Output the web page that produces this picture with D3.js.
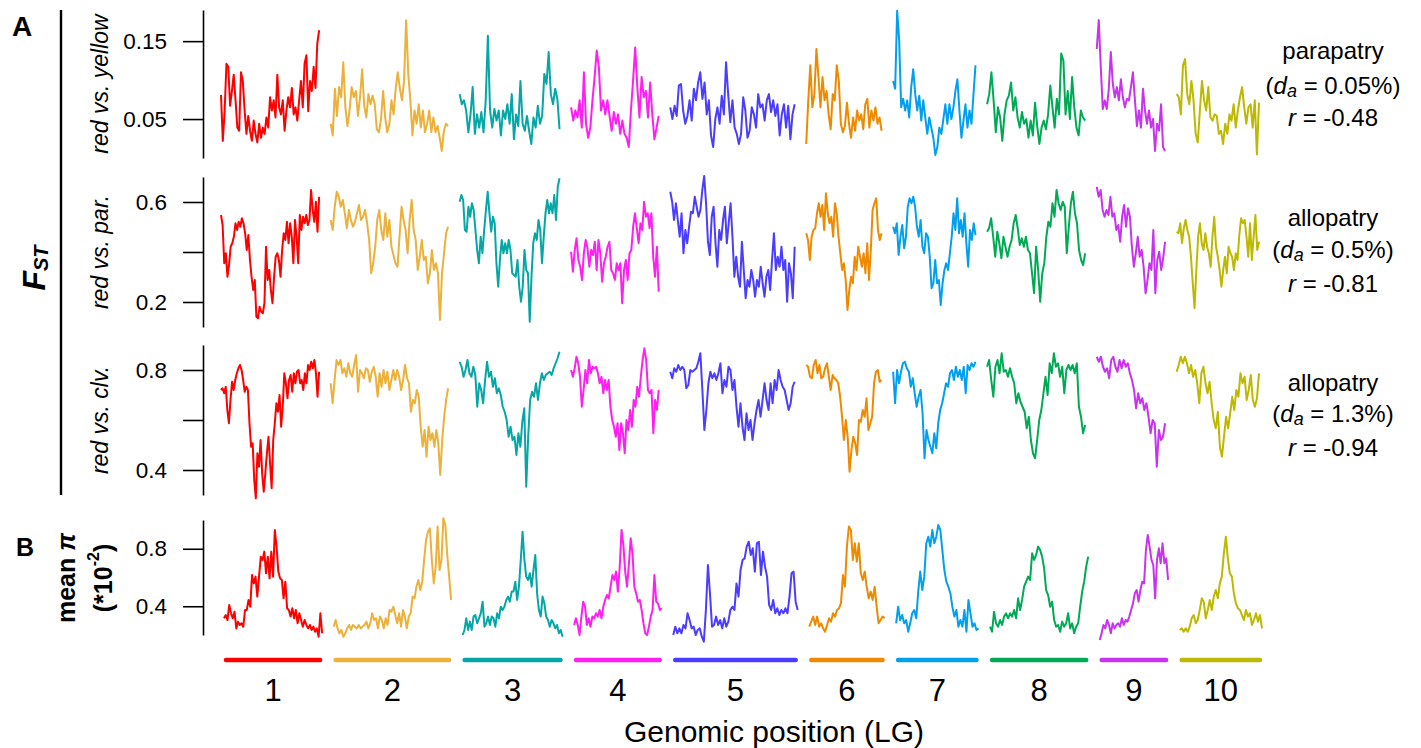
<!DOCTYPE html>
<html><head><meta charset="utf-8">
<script src="https://cdn.jsdelivr.net/npm/d3@7"></script>
<style>
html,body{margin:0;padding:0;background:#fff;}
svg{display:block;font-family:"Liberation Sans",Arial,sans-serif;}
</style></head><body>
<svg id="chart" width="1421" height="748"></svg>
<script>
// ---------------- DATA ----------------
const lgNames = ["1","2","3","4","5","6","7","8","9","10"];
const lgLengths = [28, 33.5, 28.5, 25, 35.5, 21.5, 23.5, 28, 19.5, 23.5];
const lgColors = ["#FF0000","#EBB13B","#05A6A6","#FF1FF0","#4B3DFF","#EE8A00","#00A0EF","#00AA55","#C733EE","#BDB800"];

const panelLabels = ["red vs. yellow","red vs. par.","red vs. clv."];
const contextNames = ["parapatry","allopatry","allopatry"];
const daValues = ["0.05%","0.5%","1.3%"];
const rValues = ["-0.48","-0.81","-0.94"];

const ticksRY = [0.05, 0.15];
const ticksRP = [0.2, 0.4, 0.6];
const ticksRC = [0.4, 0.6, 0.8];
const ticksPi = [0.4, 0.8];
const labeledRP = [0.2, 0.6];
const labeledRC = [0.4, 0.8];

// FST red vs. yellow
const fstRedYellow = [
 [0.081,0.022,0.06,0.121,0.117,0.067,0.086,0.107,0.074,0.039,0.035,0.110,0.099,0.061,0.031,0.054,0.035,0.022,0.048,0.031,0.020,0.044,0.026,0.039,0.031,0.052,0.039,0.078,0.061,0.074,0.052,0.107,0.065,0.056,0.074,0.035,0.061,0.078,0.065,0.090,0.056,0.065,0.048,0.074,0.099,0.065,0.121,0.132,0.060,0.099,0.086,0.117,0.090,0.147,0.164],
 [0.044,0.029,0.089,0.054,0.091,0.078,0.123,0.065,0.041,0.061,0.091,0.078,0.086,0.054,0.078,0.114,0.067,0.052,0.082,0.069,0.080,0.069,0.037,0.033,0.050,0.086,0.052,0.033,0.044,0.074,0.056,0.089,0.110,0.089,0.074,0.099,0.177,0.108,0.074,0.029,0.061,0.044,0.069,0.039,0.061,0.033,0.044,0.061,0.033,0.052,0.033,0.041,0.026,0.009,0.035,0.044,0.041],
 [0.082,0.069,0.074,0.061,0.033,0.056,0.091,0.031,0.056,0.039,0.059,0.033,0.074,0.157,0.061,0.039,0.063,0.048,0.061,0.029,0.061,0.050,0.069,0.044,0.082,0.024,0.056,0.041,0.099,0.044,0.035,0.054,0.035,0.018,0.052,0.039,0.067,0.044,0.054,0.108,0.095,0.136,0.082,0.069,0.089,0.076,0.037],
 [0.065,0.048,0.061,0.052,0.074,0.039,0.110,0.044,0.026,0.039,0.074,0.104,0.138,0.117,0.061,0.074,0.056,0.074,0.054,0.035,0.059,0.044,0.056,0.031,0.048,0.031,0.026,0.014,0.061,0.099,0.142,0.091,0.052,0.104,0.078,0.086,0.052,0.097,0.056,0.024,0.039,0.054],
 [0.065,0.050,0.067,0.054,0.093,0.095,0.061,0.044,0.054,0.074,0.048,0.089,0.074,0.097,0.110,0.076,0.097,0.056,0.074,0.029,0.014,0.050,0.065,0.044,0.080,0.056,0.123,0.082,0.046,0.074,0.039,0.031,0.018,0.031,0.078,0.061,0.026,0.035,0.065,0.056,0.039,0.082,0.065,0.069,0.048,0.074,0.082,0.059,0.074,0.054,0.069,0.029,0.056,0.069,0.039,0.067,0.024,0.056,0.069],
 [0.018,0.074,0.119,0.065,0.082,0.140,0.104,0.065,0.104,0.074,0.086,0.056,0.037,0.082,0.074,0.119,0.099,0.044,0.033,0.041,0.071,0.044,0.026,0.052,0.035,0.061,0.048,0.056,0.037,0.069,0.076,0.039,0.061,0.048,0.065,0.044,0.052,0.035],
 [0.099,0.089,0.189,0.151,0.065,0.076,0.061,0.074,0.052,0.091,0.114,0.082,0.061,0.080,0.048,0.074,0.052,0.031,0.052,0.039,0.026,0.004,0.014,0.039,0.031,0.050,0.069,0.044,0.069,0.050,0.065,0.086,0.101,0.061,0.026,0.048,0.069,0.039,0.061,0.044,0.082,0.119],
 [0.069,0.082,0.110,0.074,0.033,0.065,0.052,0.022,0.056,0.074,0.080,0.097,0.061,0.078,0.052,0.039,0.059,0.044,0.050,0.026,0.048,0.029,0.071,0.041,0.018,0.039,0.048,0.037,0.056,0.093,0.065,0.039,0.076,0.056,0.134,0.125,0.056,0.086,0.050,0.104,0.065,0.039,0.029,0.061,0.052,0.048],
 [0.140,0.177,0.117,0.063,0.074,0.063,0.089,0.136,0.095,0.078,0.091,0.074,0.101,0.078,0.065,0.076,0.074,0.091,0.110,0.074,0.041,0.061,0.039,0.089,0.061,0.044,0.061,0.039,0.050,0.009,0.044,0.035,0.069,0.014,0.009],
 [0.082,0.078,0.056,0.119,0.127,0.082,0.069,0.099,0.074,0.031,0.020,0.061,0.099,0.074,0.061,0.091,0.052,0.048,0.056,0.054,0.031,0.035,0.018,0.044,0.031,0.056,0.048,0.069,0.039,0.061,0.078,0.091,0.065,0.044,0.065,0.069,0.039,0.074,0.005,0.071]
];

// FST red vs. parapatric
const fstRedPar = [
 [0.548,0.508,0.355,0.395,0.301,0.348,0.421,0.435,0.461,0.515,0.488,0.521,0.501,0.535,0.515,0.475,0.408,0.468,0.368,0.301,0.248,0.288,0.141,0.135,0.181,0.161,0.155,0.195,0.421,0.288,0.328,0.248,0.195,0.301,0.381,0.395,0.368,0.301,0.408,0.475,0.448,0.521,0.435,0.515,0.461,0.355,0.528,0.461,0.355,0.548,0.488,0.541,0.515,0.548,0.508,0.528,0.648,0.568,0.521,0.601,0.481,0.621],
 [0.528,0.488,0.581,0.641,0.621,0.581,0.608,0.555,0.495,0.568,0.528,0.501,0.521,0.555,0.588,0.528,0.541,0.568,0.515,0.448,0.315,0.355,0.421,0.528,0.568,0.488,0.448,0.555,0.461,0.528,0.421,0.388,0.355,0.341,0.461,0.581,0.528,0.488,0.395,0.528,0.608,0.488,0.448,0.328,0.381,0.448,0.368,0.381,0.275,0.315,0.408,0.328,0.355,0.315,0.128,0.315,0.395,0.475,0.501],
 [0.601,0.628,0.608,0.488,0.481,0.581,0.541,0.595,0.568,0.488,0.408,0.355,0.461,0.395,0.488,0.568,0.641,0.555,0.481,0.541,0.515,0.355,0.261,0.368,0.448,0.395,0.435,0.395,0.448,0.408,0.315,0.308,0.301,0.368,0.261,0.201,0.261,0.408,0.328,0.315,0.121,0.301,0.435,0.475,0.448,0.528,0.488,0.355,0.461,0.555,0.608,0.555,0.595,0.555,0.628,0.528,0.661,0.695],
 [0.401,0.321,0.408,0.455,0.368,0.341,0.288,0.395,0.448,0.415,0.341,0.408,0.388,0.441,0.328,0.448,0.395,0.281,0.355,0.381,0.421,0.441,0.328,0.315,0.288,0.355,0.328,0.355,0.195,0.328,0.368,0.288,0.395,0.408,0.501,0.555,0.495,0.435,0.515,0.488,0.601,0.541,0.555,0.495,0.555,0.381,0.301,0.421,0.241],
 [0.641,0.601,0.528,0.595,0.528,0.461,0.555,0.395,0.488,0.435,0.501,0.561,0.555,0.621,0.581,0.541,0.568,0.648,0.704,0.595,0.441,0.388,0.541,0.581,0.435,0.341,0.488,0.448,0.528,0.581,0.435,0.515,0.595,0.461,0.301,0.381,0.301,0.261,0.441,0.328,0.215,0.288,0.261,0.328,0.288,0.221,0.288,0.261,0.341,0.275,0.221,0.301,0.328,0.248,0.368,0.475,0.328,0.381,0.341,0.421,0.328,0.368,0.201,0.355,0.315,0.215,0.421],
 [0.475,0.448,0.368,0.461,0.488,0.495,0.555,0.595,0.541,0.588,0.488,0.635,0.555,0.515,0.541,0.461,0.595,0.555,0.461,0.395,0.328,0.355,0.288,0.168,0.248,0.301,0.275,0.381,0.328,0.421,0.381,0.341,0.395,0.315,0.435,0.288,0.408,0.568,0.595,0.615,0.488,0.448,0.475],
 [0.501,0.475,0.515,0.388,0.461,0.508,0.415,0.461,0.581,0.615,0.595,0.621,0.581,0.501,0.461,0.528,0.421,0.395,0.475,0.461,0.381,0.255,0.275,0.368,0.275,0.288,0.188,0.275,0.328,0.355,0.328,0.395,0.461,0.555,0.488,0.615,0.475,0.528,0.461,0.555,0.435,0.341,0.488,0.448,0.515,0.468],
 [0.481,0.495,0.535,0.461,0.381,0.481,0.435,0.375,0.461,0.421,0.381,0.421,0.448,0.515,0.548,0.495,0.428,0.455,0.421,0.461,0.408,0.395,0.315,0.235,0.421,0.328,0.201,0.315,0.355,0.461,0.521,0.501,0.595,0.541,0.648,0.595,0.568,0.601,0.581,0.395,0.501,0.595,0.641,0.555,0.515,0.408,0.368,0.348,0.395],
 [0.661,0.621,0.648,0.568,0.541,0.568,0.548,0.621,0.541,0.555,0.488,0.508,0.441,0.541,0.588,0.501,0.575,0.541,0.421,0.341,0.395,0.461,0.381,0.408,0.341,0.235,0.288,0.355,0.328,0.488,0.235,0.368,0.401,0.328,0.375,0.441],
 [0.481,0.475,0.515,0.435,0.495,0.528,0.488,0.461,0.381,0.275,0.175,0.328,0.461,0.515,0.435,0.408,0.475,0.421,0.395,0.341,0.461,0.541,0.421,0.381,0.328,0.261,0.328,0.381,0.315,0.421,0.395,0.381,0.328,0.395,0.368,0.468,0.535,0.515,0.528,0.461,0.381,0.515,0.368,0.461,0.548,0.408,0.441]
];

// FST red vs. clv.
const fstRedClv = [
 [0.720,0.727,0.707,0.733,0.640,0.587,0.680,0.753,0.720,0.760,0.787,0.807,0.820,0.800,0.760,0.713,0.733,0.720,0.587,0.493,0.507,0.360,0.287,0.467,0.413,0.520,0.387,0.313,0.387,0.467,0.533,0.427,0.327,0.520,0.587,0.667,0.633,0.700,0.573,0.653,0.787,0.747,0.687,0.760,0.780,0.713,0.787,0.747,0.793,0.800,0.747,0.760,0.720,0.787,0.747,0.820,0.800,0.833,0.807,0.840,0.787,0.693,0.793],
 [0.747,0.667,0.760,0.840,0.820,0.840,0.787,0.807,0.773,0.827,0.787,0.773,0.820,0.860,0.713,0.800,0.787,0.767,0.807,0.800,0.753,0.793,0.813,0.773,0.693,0.787,0.733,0.800,0.747,0.793,0.720,0.760,0.800,0.760,0.800,0.773,0.720,0.760,0.820,0.767,0.747,0.633,0.680,0.667,0.720,0.693,0.573,0.493,0.560,0.453,0.573,0.520,0.547,0.493,0.560,0.507,0.380,0.520,0.613,0.680,0.727],
 [0.833,0.813,0.773,0.800,0.840,0.787,0.773,0.813,0.780,0.653,0.747,0.720,0.667,0.760,0.833,0.773,0.793,0.733,0.767,0.707,0.727,0.700,0.653,0.633,0.600,0.533,0.573,0.520,0.533,0.460,0.547,0.493,0.593,0.647,0.333,0.533,0.680,0.713,0.693,0.747,0.680,0.747,0.787,0.760,0.780,0.787,0.793,0.780,0.807,0.827,0.847,0.873],
 [0.800,0.773,0.807,0.853,0.827,0.773,0.653,0.720,0.800,0.747,0.840,0.787,0.813,0.807,0.813,0.787,0.747,0.773,0.707,0.760,0.720,0.760,0.653,0.600,0.573,0.533,0.587,0.480,0.587,0.547,0.467,0.600,0.560,0.640,0.573,0.680,0.653,0.733,0.693,0.773,0.840,0.887,0.840,0.720,0.707,0.720,0.547,0.680,0.640,0.720],
 [0.793,0.767,0.807,0.793,0.820,0.800,0.813,0.800,0.727,0.740,0.800,0.793,0.800,0.807,0.833,0.867,0.720,0.560,0.640,0.747,0.793,0.767,0.787,0.760,0.787,0.827,0.707,0.760,0.733,0.813,0.800,0.720,0.760,0.653,0.573,0.667,0.573,0.520,0.627,0.560,0.600,0.520,0.587,0.640,0.680,0.613,0.680,0.747,0.680,0.640,0.747,0.667,0.760,0.720,0.800,0.760,0.733,0.720,0.680,0.640,0.667,0.733,0.753],
 [0.820,0.813,0.773,0.767,0.820,0.840,0.787,0.820,0.767,0.773,0.807,0.827,0.773,0.720,0.780,0.767,0.760,0.747,0.693,0.613,0.520,0.600,0.533,0.393,0.480,0.533,0.507,0.460,0.600,0.593,0.640,0.613,0.687,0.560,0.587,0.613,0.747,0.793,0.800,0.753,0.760],
 [0.793,0.667,0.800,0.747,0.793,0.827,0.833,0.807,0.793,0.733,0.767,0.707,0.653,0.693,0.720,0.627,0.447,0.560,0.520,0.493,0.467,0.547,0.487,0.587,0.640,0.667,0.707,0.747,0.733,0.787,0.800,0.760,0.813,0.773,0.800,0.760,0.813,0.707,0.820,0.800,0.827,0.813,0.833],
 [0.813,0.840,0.760,0.693,0.813,0.840,0.787,0.867,0.793,0.800,0.773,0.807,0.773,0.747,0.667,0.707,0.673,0.653,0.633,0.567,0.613,0.520,0.467,0.447,0.520,0.600,0.640,0.707,0.773,0.700,0.827,0.787,0.867,0.813,0.827,0.773,0.813,0.707,0.800,0.820,0.800,0.820,0.787,0.827,0.653,0.613,0.547,0.580],
 [0.853,0.833,0.853,0.813,0.793,0.807,0.767,0.840,0.853,0.813,0.793,0.840,0.807,0.840,0.813,0.827,0.787,0.760,0.720,0.647,0.707,0.667,0.687,0.640,0.667,0.613,0.547,0.600,0.587,0.413,0.560,0.520,0.533,0.587],
 [0.793,0.820,0.853,0.827,0.853,0.827,0.787,0.820,0.773,0.800,0.747,0.667,0.787,0.813,0.747,0.707,0.753,0.667,0.600,0.567,0.633,0.493,0.453,0.533,0.613,0.567,0.627,0.693,0.640,0.720,0.693,0.787,0.747,0.773,0.680,0.720,0.780,0.680,0.653,0.687,0.787]
];

// mean pi (*10^-2)
const meanPi = [
 [0.316,0.339,0.304,0.409,0.351,0.316,0.362,0.246,0.293,0.270,0.281,0.258,0.374,0.374,0.444,0.397,0.617,0.559,0.606,0.467,0.606,0.745,0.722,0.780,0.629,0.745,0.594,0.780,0.606,0.931,0.815,0.641,0.594,0.583,0.455,0.571,0.386,0.374,0.328,0.386,0.316,0.374,0.281,0.351,0.304,0.258,0.304,0.270,0.246,0.270,0.235,0.258,0.223,0.246,0.188,0.351,0.212],
 [0.258,0.304,0.246,0.212,0.235,0.188,0.212,0.246,0.270,0.235,0.270,0.258,0.246,0.270,0.246,0.258,0.270,0.293,0.246,0.281,0.351,0.304,0.316,0.246,0.328,0.304,0.246,0.316,0.270,0.374,0.362,0.397,0.339,0.281,0.351,0.258,0.374,0.328,0.246,0.328,0.351,0.467,0.455,0.536,0.583,0.513,0.571,0.722,0.861,0.919,0.942,0.722,0.559,0.675,0.954,0.652,0.722,1.012,0.965,0.757,0.606,0.444],
 [0.200,0.235,0.316,0.235,0.293,0.235,0.328,0.339,0.281,0.316,0.351,0.432,0.258,0.281,0.328,0.270,0.328,0.316,0.258,0.351,0.316,0.397,0.374,0.397,0.444,0.467,0.432,0.502,0.502,0.571,0.444,0.536,0.722,0.919,0.722,0.606,0.583,0.629,0.536,0.652,0.757,0.490,0.374,0.328,0.467,0.420,0.328,0.304,0.258,0.304,0.281,0.246,0.270,0.212,0.235,0.188],
 [0.270,0.316,0.270,0.200,0.328,0.432,0.397,0.270,0.316,0.258,0.328,0.316,0.351,0.328,0.374,0.316,0.397,0.444,0.478,0.455,0.536,0.617,0.583,0.641,0.502,0.675,0.931,0.826,0.641,0.536,0.687,0.873,0.768,0.536,0.490,0.432,0.444,0.374,0.281,0.212,0.200,0.258,0.328,0.374,0.617,0.432,0.420,0.374,0.386],
 [0.200,0.258,0.212,0.246,0.212,0.270,0.246,0.351,0.304,0.246,0.258,0.200,0.235,0.246,0.188,0.154,0.374,0.687,0.490,0.258,0.270,0.328,0.270,0.304,0.246,0.316,0.258,0.293,0.374,0.397,0.374,0.559,0.467,0.652,0.722,0.733,0.815,0.849,0.757,0.803,0.641,0.838,0.849,0.617,0.780,0.675,0.606,0.409,0.374,0.444,0.351,0.386,0.339,0.374,0.351,0.386,0.351,0.467,0.629,0.641,0.432,0.374],
 [0.258,0.293,0.328,0.270,0.328,0.258,0.281,0.246,0.223,0.270,0.316,0.293,0.351,0.328,0.374,0.386,0.420,0.617,0.536,0.815,0.954,0.931,0.722,0.838,0.710,0.838,0.629,0.583,0.641,0.536,0.455,0.502,0.444,0.536,0.397,0.281,0.304,0.328,0.316],
 [0.281,0.397,0.304,0.339,0.281,0.304,0.223,0.281,0.351,0.374,0.316,0.502,0.641,0.513,0.606,0.838,0.884,0.815,0.931,0.838,0.884,0.965,0.931,0.791,0.652,0.571,0.536,0.490,0.397,0.328,0.374,0.258,0.304,0.258,0.374,0.223,0.444,0.351,0.258,0.281,0.235,0.246],
 [0.258,0.223,0.362,0.281,0.258,0.304,0.270,0.328,0.351,0.316,0.351,0.328,0.374,0.316,0.455,0.374,0.444,0.536,0.571,0.606,0.583,0.768,0.722,0.757,0.815,0.791,0.745,0.664,0.513,0.478,0.397,0.432,0.304,0.258,0.270,0.223,0.293,0.258,0.281,0.351,0.246,0.281,0.212,0.258,0.281,0.397,0.502,0.571,0.675,0.745],
 [0.165,0.212,0.270,0.246,0.304,0.270,0.212,0.281,0.246,0.270,0.281,0.258,0.316,0.270,0.304,0.293,0.328,0.374,0.420,0.490,0.513,0.432,0.513,0.571,0.559,0.791,0.896,0.815,0.722,0.687,0.455,0.722,0.803,0.699,0.838,0.699,0.733,0.583],
 [0.235,0.246,0.223,0.246,0.223,0.258,0.316,0.339,0.281,0.304,0.374,0.455,0.432,0.316,0.374,0.444,0.374,0.467,0.513,0.455,0.559,0.606,0.768,0.884,0.733,0.629,0.606,0.490,0.420,0.386,0.374,0.339,0.304,0.374,0.328,0.351,0.270,0.304,0.351,0.293,0.339,0.246]
];

// ---------------- DRAWING ----------------
const FONT = '"Liberation Sans", Arial, sans-serif';
const svg = d3.select("#chart");
const gapMb = 3.3;
const offsets = [];
let acc = 0;
lgLengths.forEach(L => { offsets.push(acc); acc += L + gapMb; });
const totalMb = acc - gapMb;
const x = d3.scaleLinear().domain([0, totalMb]).range([224, 1262]);

const panels = [
  {data: fstRedYellow, domain: [0, 0.19], range: [158, 10], ticks: ticksRY, labeled: ticksRY, fmt: ".2f", shift: -3, label: panelLabels[0]},
  {data: fstRedPar, domain: [0.1, 0.7], range: [327, 177], ticks: ticksRP, labeled: labeledRP, fmt: ".1f", shift: -3, label: panelLabels[1]},
  {data: fstRedClv, domain: [0.3, 0.9], range: [495, 345], ticks: ticksRC, labeled: labeledRC, fmt: ".1f", shift: -3, label: panelLabels[2]},
  {data: meanPi, domain: [0.2, 1.0], range: [635, 520], ticks: ticksPi, labeled: ticksPi, fmt: ".1f", shift: 0, label: null}
];

panels.forEach(p => {
  const y = d3.scaleLinear().domain(p.domain).range(p.range);
  const axis = d3.axisLeft(y).tickValues(p.ticks).tickSize(20).tickSizeOuter(0).tickPadding(16)
    .tickFormat(d => p.labeled.includes(d) ? d3.format(p.fmt)(d) : "");
  const g = svg.append("g").attr("transform", "translate(203,0)").call(axis);
  g.attr("font-family", FONT).attr("font-size", 22.5);
  g.select(".domain").attr("stroke", "#000").attr("stroke-width", 1.6);
  g.selectAll(".tick line").attr("stroke", "#000").attr("stroke-width", 1.6);
  g.selectAll(".tick text").attr("fill", "#000");

  const lineG = svg.append("g").attr("transform", `translate(${p.shift},0)`);
  p.data.forEach((vals, i) => {
    const n = vals.length;
    const pts = vals.map((v, j) => [x(offsets[i] + lgLengths[i] * j / (n - 1)), y(v)]);
    lineG.append("path")
      .attr("d", d3.line()(pts))
      .attr("fill", "none")
      .attr("stroke", lgColors[i])
      .attr("stroke-width", 2)
      .attr("stroke-linejoin", "round");
  });

  if (p.label) {
    const cy = (p.range[0] + p.range[1]) / 2;
    svg.append("text")
      .attr("transform", `translate(100,${cy}) rotate(-90)`)
      .attr("text-anchor", "middle").attr("dominant-baseline", "central")
      .attr("font-family", FONT).attr("font-size", 23).attr("font-style", "italic")
      .text(p.label);
  }
});

// left bracket line for A
svg.append("line").attr("x1", 61).attr("x2", 61).attr("y1", 10).attr("y2", 495)
  .attr("stroke", "#000").attr("stroke-width", 2.4);

// Panel letters
svg.append("text").attr("x", 12).attr("y", 36).attr("font-family", FONT)
  .attr("font-size", 28).attr("font-weight", "bold").text("A");
svg.append("text").attr("x", 16).attr("y", 556).attr("font-family", FONT)
  .attr("font-size", 25).attr("font-weight", "bold").text("B");

// F_ST label
const fst = svg.append("text")
  .attr("transform", "translate(34,268) rotate(-90)")
  .attr("text-anchor", "middle").attr("dominant-baseline", "central")
  .attr("font-family", FONT).attr("font-weight", "bold").attr("font-style", "italic")
  .attr("font-size", 32);
fst.append("tspan").text("F");
fst.append("tspan").attr("font-size", 20).attr("dy", 7).text("ST");

// mean pi label
svg.append("text")
  .attr("transform", "translate(66,578) rotate(-90)")
  .attr("text-anchor", "middle").attr("dominant-baseline", "central")
  .attr("font-family", FONT).attr("font-weight", "bold").attr("font-size", 25)
  .call(t => { t.append("tspan").text("mean "); t.append("tspan").attr("font-style", "italic").text("π"); });
svg.append("text")
  .attr("transform", "translate(103,578) rotate(-90)")
  .attr("text-anchor", "middle").attr("dominant-baseline", "central")
  .attr("font-family", FONT).attr("font-weight", "bold").attr("font-size", 25)
  .call(t => {
    t.append("tspan").text("(*10");
    t.append("tspan").attr("font-size", 16).attr("dy", -10).text("-2");
    t.append("tspan").attr("dy", 10).text(")");
  });

// right annotations
const annY = [[50, 85, 117], [217, 249, 283], [382, 413, 447]];
contextNames.forEach((name, i) => {
  const [y1, y2, y3] = annY[i];
  svg.append("text").attr("x", 1333).attr("y", y1).attr("text-anchor", "middle")
    .attr("dominant-baseline", "central").attr("font-family", FONT).attr("font-size", 24).text(name);
  const t2 = svg.append("text").attr("x", 1333).attr("y", y2).attr("text-anchor", "middle")
    .attr("dominant-baseline", "central").attr("font-family", FONT).attr("font-size", 24);
  t2.append("tspan").text("(");
  t2.append("tspan").attr("font-style", "italic").text("d");
  t2.append("tspan").attr("font-style", "italic").attr("font-size", 18).attr("dy", 6).text("a");
  t2.append("tspan").attr("dy", -6).text(" = " + daValues[i] + ")");
  const t3 = svg.append("text").attr("x", 1333).attr("y", y3).attr("text-anchor", "middle")
    .attr("dominant-baseline", "central").attr("font-family", FONT).attr("font-size", 24);
  t3.append("tspan").attr("font-style", "italic").text("r");
  t3.append("tspan").text(" = " + rValues[i]);
});

// LG bars and labels
lgNames.forEach((name, i) => {
  svg.append("line")
    .attr("x1", x(offsets[i]) + 2).attr("x2", x(offsets[i] + lgLengths[i]) - 2)
    .attr("y1", 660).attr("y2", 660)
    .attr("stroke", lgColors[i]).attr("stroke-width", 4.5).attr("stroke-linecap", "round");
  svg.append("text")
    .attr("x", x(offsets[i] + lgLengths[i] / 2)).attr("y", 701)
    .attr("text-anchor", "middle").attr("font-family", FONT).attr("font-size", 31)
    .text(name);
});

svg.append("text").attr("x", 774).attr("y", 742).attr("text-anchor", "middle")
  .attr("font-family", FONT).attr("font-size", 30).text("Genomic position (LG)");
</script></body></html>
